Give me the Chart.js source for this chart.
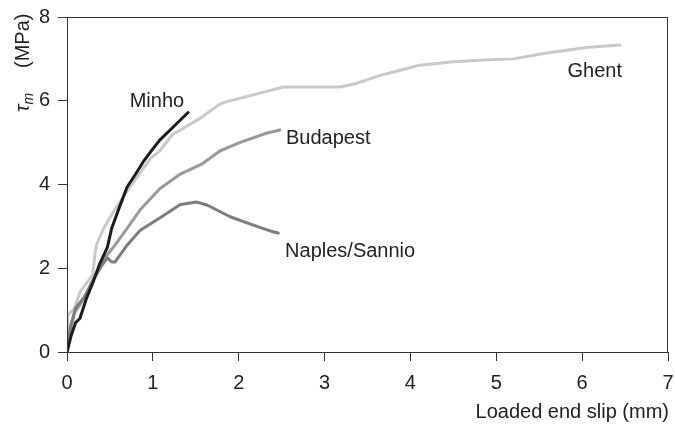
<!DOCTYPE html>
<html>
<head>
<meta charset="utf-8">
<script src="https://cdn.jsdelivr.net/npm/chart.js@4/dist/chart.umd.min.js"></script>
<style>
  html, body { margin: 0; padding: 0; background: #fff; }
  #wrap { width: 675px; height: 427px; }
</style>
</head>
<body>
<div id="wrap"><canvas id="c" width="675" height="427"></canvas></div>
<script>
// Bond stress vs loaded end slip, four test sites
const minhoSlip   = [0, 0.05, 0.10, 0.15, 0.23, 0.30, 0.38, 0.47, 0.52, 0.60, 0.70, 0.80, 0.89, 1.00, 1.08, 1.24, 1.41];
const minhoStress = [0, 0.40, 0.70, 0.80, 1.30, 1.65, 2.10, 2.50, 2.95, 3.40, 3.94, 4.25, 4.55, 4.85, 5.06, 5.38, 5.72];

const naplesSlip   = [0, 0.04, 0.10, 0.20, 0.30, 0.40, 0.47, 0.52, 0.56, 0.70, 0.85, 1.08, 1.32, 1.51, 1.63, 1.90, 2.17, 2.40, 2.46];
const naplesStress = [0, 0.60, 1.05, 1.30, 1.70, 2.05, 2.25, 2.15, 2.15, 2.55, 2.90, 3.20, 3.52, 3.58, 3.51, 3.23, 3.03, 2.87, 2.84];

const budapestSlip   = [0, 0.03, 0.09, 0.15, 0.25, 0.35, 0.42, 0.54, 0.70, 0.85, 1.08, 1.32, 1.58, 1.78, 2.01, 2.33, 2.48];
const budapestStress = [0, 0.45, 0.95, 1.12, 1.50, 1.90, 2.20, 2.50, 2.95, 3.39, 3.90, 4.25, 4.50, 4.80, 5.00, 5.23, 5.30];

const ghentSlip   = [0, 0.01, 0.09, 0.15, 0.30, 0.33, 0.35, 0.44, 0.54, 0.67, 0.85, 0.97, 1.08, 1.23, 1.32, 1.55, 1.78, 1.86, 2.00, 2.28, 2.52, 3.18, 3.38, 3.64, 3.88, 4.11, 4.50, 4.92, 5.20, 5.59, 6.05, 6.44];
const ghentStress = [0, 0.88, 1.05, 1.43, 1.84, 2.40, 2.60, 3.00, 3.35, 3.75, 4.27, 4.62, 4.80, 5.20, 5.30, 5.58, 5.92, 5.98, 6.05, 6.20, 6.33, 6.33, 6.42, 6.60, 6.73, 6.85, 6.93, 6.98, 7.00, 7.14, 7.27, 7.33];

const xTicks = [0, 1, 2, 3, 4, 5, 6, 7];
const yTicks = [0, 2, 4, 6, 8];

const seriesNames  = ['Minho', 'Naples/Sannio', 'Budapest', 'Ghent'];
const seriesColors = ['#1c1c1c', '#7d7d7d', '#9a9a9a', '#c9c9c9'];
// label anchor (left edge, vertical middle) in data units
const labelSlip   = [0.73, 2.54, 2.55, 5.83];
const labelStress = [5.99, 2.41, 5.10, 6.69];

const pairs = (xs, ys) => xs.map((x, i) => ({ x: x, y: ys[i] }));
const seriesData = [
  pairs(minhoSlip, minhoStress),
  pairs(naplesSlip, naplesStress),
  pairs(budapestSlip, budapestStress),
  pairs(ghentSlip, ghentStress)
];

const FONT = '"Liberation Sans", Arial, sans-serif';
const INK = '#222';

// frame around the plot area, curve labels and axis titles
const decorations = {
  id: 'decorations',
  afterDraw(chart) {
    const { ctx, chartArea: a, scales } = chart;
    ctx.save();
    ctx.strokeStyle = '#333';
    ctx.lineWidth = 1;
    ctx.strokeRect(a.left + 0.5, a.top + 0.5, a.right - a.left - 1, a.bottom - a.top);

    ctx.fillStyle = INK;
    ctx.font = '20px ' + FONT;
    ctx.textAlign = 'left';
    ctx.textBaseline = 'middle';
    seriesNames.forEach((name, i) => {
      ctx.fillText(name, scales.x.getPixelForValue(labelSlip[i]), scales.y.getPixelForValue(labelStress[i]));
    });

    // x axis title
    ctx.textAlign = 'right';
    ctx.textBaseline = 'alphabetic';
    ctx.fillText('Loaded end slip (mm)', a.right + 1, 418);

    // y axis title: tau with subscript m, rotated
    ctx.translate(29, 0);
    ctx.rotate(-Math.PI / 2);
    ctx.textAlign = 'left';
    ctx.font = 'italic 20px ' + FONT;
    ctx.fillText('τ', -112, 0);
    const w = ctx.measureText('τ').width;
    ctx.font = 'italic 14px ' + FONT;
    ctx.fillText('m', -112 + w, 4);
    ctx.font = '20px ' + FONT;
    ctx.fillText('(MPa)', -68, 0);
    ctx.restore();
  }
};

new Chart(document.getElementById('c'), {
  type: 'scatter',
  data: {
    datasets: seriesData.map((d, i) => ({
      label: seriesNames[i],
      data: d,
      showLine: true,
      borderColor: seriesColors[i],
      backgroundColor: seriesColors[i],
      borderWidth: 3,
      pointRadius: 0,
      tension: 0,
      borderJoinStyle: 'round',
      borderCapStyle: 'round'
    }))
  },
  options: {
    responsive: false,
    animation: false,
    layout: { padding: { left: 0, top: 17, right: 7, bottom: 0 } },
    plugins: { legend: { display: false }, tooltip: { enabled: false } },
    scales: {
      x: {
        type: 'linear',
        min: 0, max: 7,
        afterBuildTicks(s) { s.ticks = xTicks.map(v => ({ value: v })); },
        afterFit(s) { s.height = 75; s.paddingLeft = 0; s.paddingRight = 0; },
        grid: { drawOnChartArea: false, drawTicks: true, tickLength: 9, color: '#333' },
        border: { display: true, color: '#333', width: 1 },
        ticks: { color: INK, font: { family: FONT, size: 20 }, padding: 10, maxRotation: 0 }
      },
      y: {
        type: 'linear',
        min: 0, max: 8,
        afterBuildTicks(s) { s.ticks = yTicks.map(v => ({ value: v })); },
        afterFit(s) { s.width = 67; s.paddingTop = 0; s.paddingBottom = 0; },
        grid: { drawOnChartArea: false, drawTicks: true, tickLength: 9, color: '#333' },
        border: { display: true, color: '#333', width: 1 },
        ticks: { color: INK, font: { family: FONT, size: 20 }, padding: 8 }
      }
    }
  },
  plugins: [decorations]
});
</script>
</body>
</html>
